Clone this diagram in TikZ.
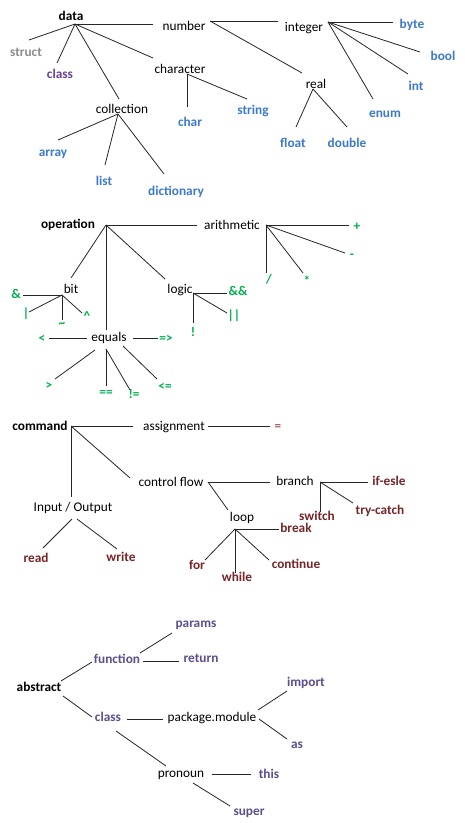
\documentclass[tikz,border=0pt]{standalone}
\usepackage{fontspec}
\setmainfont{Carlito}
\definecolor{lblue}{RGB}{60,122,204}
\definecolor{lgreen}{RGB}{0,176,80}
\definecolor{lmaroon}{RGB}{118,38,40}
\definecolor{lpurple}{RGB}{93,78,140}
\definecolor{lviolet}{RGB}{105,65,150}
\definecolor{lgrey}{RGB}{140,140,140}
\tikzset{
  every node/.style={inner sep=0pt, outer sep=0pt, anchor=base, font=\fontsize{13.3}{16}\selectfont},
  root/.style={font=\fontsize{13.3}{16}\selectfont\bfseries, text=black},
  mid/.style={text=black},
  leafB/.style={font=\fontsize{13.3}{16}\selectfont\bfseries, text=lblue},
  leafG/.style={font=\fontsize{13.3}{16}\selectfont\bfseries, text=lgreen},
  leafR/.style={font=\fontsize{13.3}{16}\selectfont\bfseries, text=lmaroon},
  leafRr/.style={text=lmaroon},
  leafP/.style={font=\fontsize{13.3}{16}\selectfont\bfseries, text=lpurple},
  leafV/.style={font=\fontsize{13.3}{16}\selectfont\bfseries, text=lviolet},
  leafS/.style={font=\fontsize{13.3}{16}\selectfont\bfseries, text=lgrey},
  link/.style={draw=black!85, line width=0.8pt},
}
\begin{document}
\begin{tikzpicture}[x=1pt,y=-1pt]
\useasboundingbox[fill=white] (0,0) rectangle (465,823);
% ---------- data ----------
\node[root] (data) at (71,20) {data};
\node[mid] (number) at (184,30) {number};
\node[mid] (integer) at (304,31) {integer};
\node[leafB] (byte) at (412,28) {byte};
\node[leafB] (bool) at (443,60) {bool};
\node[leafB] (int) at (416,90) {int};
\node[leafB] (enum) at (385,117) {enum};
\node[mid] (real) at (316,88) {real};
\node[leafB] (float) at (293,147) {float};
\node[leafB] (double) at (347,147) {double};
\node[mid] (character) at (180,73) {character};
\node[leafB] (char) at (190,126) {char};
\node[leafB] (string) at (253,114) {string};
\node[leafS] (struct) at (26,56) {struct};
\node[leafV] (classA) at (60,78) {class};
\node[mid] (collection) at (122,113) {collection};
\node[leafB] (array) at (53,156) {array};
\node[leafB] (list) at (104,185) {list};
\node[leafB] (dictionary) at (176,195) {dictionary};
\coordinate (dJ) at (75,24);
\coordinate (nJ) at (210,21);
\coordinate (iJ) at (328,22);
\coordinate (rJ) at (313,89);
\coordinate (cJ) at (187,74);
\coordinate (colJ) at (118,114);
\draw[link] (dJ) -- ([shift={(-31,-6)}]number.base);
\draw[link] (nJ) -- ([shift={(-26,-10)}]integer.base);
\draw[link] (nJ) -- ([shift={(-14,-15)}]real.base);
\draw[link] (iJ) -- ([shift={(-19,-6)}]byte.base);
\draw[link] (iJ) -- ([shift={(-23,-8)}]bool.base);
\draw[link] (iJ) -- ([shift={(-8,-16)}]int.base);
\draw[link] (iJ) -- ([shift={(-12,-18)}]enum.base);
\draw[link] (rJ) -- ([shift={(3,-20)}]float.base);
\draw[link] (rJ) -- ([shift={(0,-20)}]double.base);
\draw[link] (dJ) -- ([shift={(-27,-15)}]character.base);
\draw[link] (cJ) -- ([shift={(-3,-19)}]char.base);
\draw[link] (cJ) -- ([shift={(-6,-15)}]string.base);
\draw[link] (dJ) -- ([shift={(3,-16)}]struct.base);
\draw[link] (dJ) -- ([shift={(-3,-15)}]classA.base);
\draw[link] (dJ) -- ([shift={(-3,-14)}]collection.base);
\draw[link] (colJ) -- ([shift={(5,-16)}]array.base);
\draw[link] (colJ) -- ([shift={(1,-20)}]list.base);
\draw[link] (colJ) -- ([shift={(-12,-21)}]dictionary.base);
% ---------- operation ----------
\node[root] (operation) at (68,228) {operation};
\node[mid] (arithmetic) at (232,229) {arithmetic};
\node[leafG] (plus) at (357,230) {+};
\node[leafG] (minus) at (352,258) {-};
\node[leafG] (slash) at (269,283) {/};
\node[leafG] (star) at (307,285) {*};
\node[mid] (bit) at (71,293) {bit};
\node[mid] (logic) at (180,293) {logic};
\node[mid] (equals) at (109,341) {equals};
\node[leafG] (amp) at (16,298) {\&};
\node[leafG] (bar) at (26,317) {|};
\node[leafG] (tilde) at (62,327) {\char`~};
\node[leafG] (caret) at (87,320) {\char`^};
\node[leafG] (andand) at (238,295) {\&\&};
\node[leafG] (oror) at (234,319) {||};
\node[leafG] (not) at (193,336) {!};
\node[leafG] (lt) at (42,342) {<};
\node[leafG] (ge) at (166,342) {=>};
\node[leafG] (gt) at (49,389) {>};
\node[leafG] (eqeq) at (106,396) {==};
\node[leafG] (ne) at (134,398) {!=};
\node[leafG] (le) at (165,390) {<=};
\coordinate (oJ) at (106,225);
\coordinate (aJ) at (266,225);
\coordinate (bJ) at (62,295);
\coordinate (lJ) at (193,293);
\draw[link] (oJ) -- ([shift={(-35,-4)}]arithmetic.base);
\draw[link] (aJ) -- ([shift={(-8,-5)}]plus.base);
\draw[link] (aJ) -- ([shift={(-7,-5)}]minus.base);
\draw[link] (aJ) -- ([shift={(-3,-10)}]slash.base);
\draw[link] (aJ) -- ([shift={(-4,-12)}]star.base);
\draw[link] (oJ) -- ([shift={(0,-15)}]bit.base);
\draw[link] (oJ) -- ([shift={(-3,-11)}]equals.base);
\draw[link] (oJ) -- ([shift={(-15,-14)}]logic.base);
\draw[link] (bJ) -- ([shift={(7,-3)}]amp.base);
\draw[link] (bJ) -- ([shift={(3,-5)}]bar.base);
\draw[link] (bJ) -- ([shift={(0,-7)}]tilde.base);
\draw[link] (bJ) -- ([shift={(-5,-7)}]caret.base);
\draw[link] (lJ) -- ([shift={(-11,-2)}]andand.base);
\draw[link] (lJ) -- ([shift={(-7,-6)}]oror.base);
\draw[link] (lJ) -- ([shift={(0,-13)}]not.base);
\draw[link] ([shift={(-22,-3)}]equals.base) -- ([shift={(7,-4)}]lt.base);
\draw[link] ([shift={(24,-3)}]equals.base) -- ([shift={(-8,-4)}]ge.base);
\draw[link] ([shift={(-14,9)}]equals.base) -- ([shift={(6,-10)}]gt.base);
\draw[link] ([shift={(-3,8)}]equals.base) -- ([shift={(0,-10)}]eqeq.base);
\draw[link] ([shift={(-3,8)}]equals.base) -- ([shift={(-4,-8)}]ne.base);
\draw[link] ([shift={(14,5)}]equals.base) -- ([shift={(-8,-11)}]le.base);
% ---------- command ----------
\node[root] (command) at (40,430) {command};
\node[mid] (assignment) at (174,430) {assignment};
\node[leafRr] (eq) at (278,430) {=};
\node[mid] (controlflow) at (171,486) {control flow};
\node[mid] (io) at (73,511) {Input / Output};
\node[leafR] (read) at (36,562) {read};
\node[leafR] (write) at (121,561) {write};
\node[mid] (branch) at (295,485) {branch};
\node[mid] (loop) at (242,521) {loop};
\node[leafR] (ifesle) at (389,485) {if-esle};
\node[leafR] (switch) at (317,520) {switch};
\node[leafR] (trycatch) at (380,514) {try-catch};
\node[leafR] (break) at (296,532) {break};
\node[leafR] (for) at (197,569) {for};
\node[leafR] (while) at (237,581) {while};
\node[leafR] (continue) at (296,568) {continue};
\coordinate (cmJ) at (71,426);
\coordinate (cfJ) at (208,482);
\coordinate (brJ) at (320,482);
\coordinate (lpJ) at (235,529);
\draw[link] (cmJ) -- ([shift={(-41,-4)}]assignment.base);
\draw[link] ([shift={(34,-4)}]assignment.base) -- ([shift={(-8,-4)}]eq.base);
\draw[link] (cmJ) -- ([shift={(-41,-8)}]controlflow.base);
\draw[link] (cmJ) -- ([shift={(-2,-14)}]io.base);
\draw[link] ([shift={(-1,8)}]io.base) -- ([shift={(7,-14)}]read.base);
\draw[link] ([shift={(4,8)}]io.base) -- ([shift={(-4,-12)}]write.base);
\draw[link] (cfJ) -- ([shift={(-25,-3)}]branch.base);
\draw[link] (cfJ) -- ([shift={(-14,-11)}]loop.base);
\draw[link] (brJ) -- ([shift={(-21,-3)}]ifesle.base);
\draw[link] (brJ) -- ([shift={(3,-8)}]switch.base);
\draw[link] (brJ) -- ([shift={(-27,-11)}]trycatch.base);
\draw[link] (lpJ) -- ([shift={(-17,-3)}]break.base);
\draw[link] (lpJ) -- ([shift={(8,-9)}]for.base);
\draw[link] (lpJ) -- ([shift={(-2,-8)}]while.base);
\draw[link] (lpJ) -- ([shift={(-27,-8)}]continue.base);
% ---------- abstract ----------
\node[root] (abstract) at (39,691) {abstract};
\node[leafP] (function) at (117,663) {function};
\node[leafP] (params) at (196,627) {params};
\node[leafP] (return) at (201,662) {return};
\node[leafP] (classB) at (108,721) {class};
\node[mid] (package) at (212,721) {package.module};
\node[mid] (pronoun) at (181,777) {pronoun};
\node[leafP] (import) at (306,686) {import};
\node[leafP] (as) at (297,748) {as};
\node[leafP] (this) at (269,778) {this};
\node[leafP] (super) at (249,815) {super};
\draw[link] ([shift={(22,-10)}]abstract.base) -- ([shift={(-25,-1)}]function.base);
\draw[link] ([shift={(23,-10)}]function.base) -- ([shift={(-24,6)}]params.base);
\draw[link] ([shift={(26,-2)}]function.base) -- ([shift={(-22,-1)}]return.base);
\draw[link] ([shift={(24,5)}]abstract.base) -- ([shift={(-16,-4)}]classB.base);
\draw[link] ([shift={(19,-2)}]classB.base) -- ([shift={(-49,-2)}]package.base);
\draw[link] ([shift={(8,10)}]classB.base) -- ([shift={(-15,-11)}]pronoun.base);
\draw[link] ([shift={(46,-11)}]package.base) -- ([shift={(-19,5)}]import.base);
\draw[link] ([shift={(47,-2)}]package.base) -- ([shift={(-10,-9)}]as.base);
\draw[link] ([shift={(31,-3)}]pronoun.base) -- ([shift={(-18,-4)}]this.base);
\draw[link] ([shift={(12,6)}]pronoun.base) -- ([shift={(-19,-9)}]super.base);
\end{tikzpicture}
\end{document}
